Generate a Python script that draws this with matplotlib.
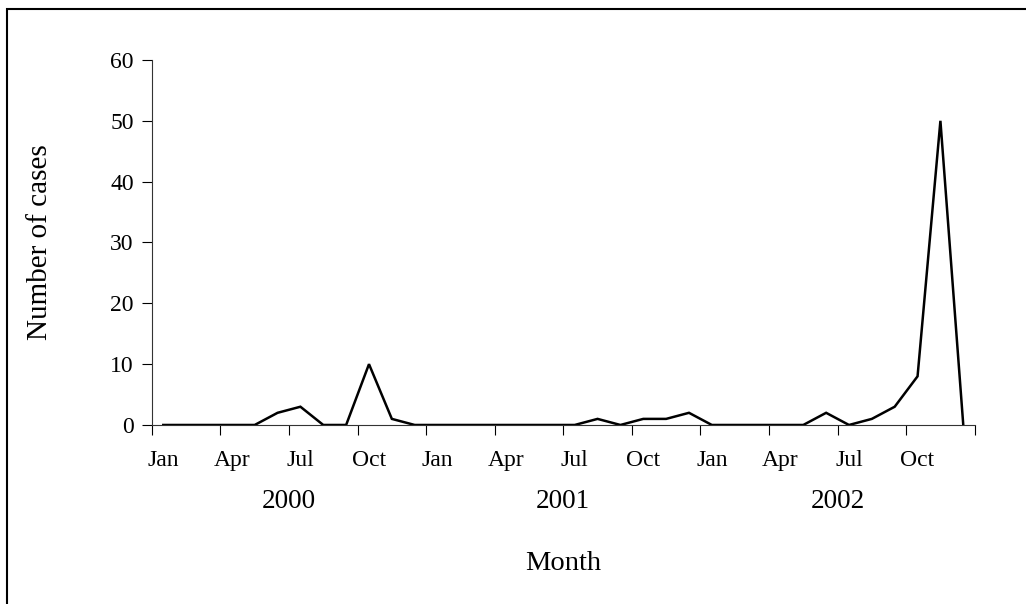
import numpy as np
import matplotlib.pyplot as plt
from matplotlib.patches import Rectangle
from matplotlib.transforms import blended_transform_factory

# monthly case counts, Jan 2000 - Dec 2002
cases_2000 = [0, 0, 0, 0, 0, 2, 3, 0, 0, 10, 1, 0]
cases_2001 = [0, 0, 0, 0, 0, 0, 0, 1, 0, 1, 1, 2]
cases_2002 = [0, 0, 0, 0, 0, 2, 0, 1, 3, 8, 50, 0]
years = ['2000', '2001', '2002']
month_labels = ['Jan', 'Apr', 'Jul', 'Oct']


def main():
    plt.rcParams['font.family'] = ['Liberation Serif', 'DejaVu Serif']

    cases = np.array(cases_2000 + cases_2001 + cases_2002)
    x = np.arange(len(cases))

    fig = plt.figure(figsize=(10.26, 6.04), dpi=100)
    ax = fig.add_axes([0.148, 0.2964, 0.802, 0.6043])

    ax.plot(x, cases, color='black', lw=1.8, solid_joinstyle='miter')

    ax.set_xlim(-0.5, len(cases) - 0.5)
    ax.set_ylim(0, 60)
    ax.set_yticks(np.arange(0, 61, 10))
    ax.tick_params(axis='y', labelsize=17, length=7, width=0.8, pad=6, colors='black')

    # ticks at quarter boundaries, labels under every third month
    ax.set_xticks(np.arange(-0.5, len(cases), 3))
    ax.set_xticklabels([])
    ax.tick_params(axis='x', which='major', length=7, width=0.8)
    ax.set_xticks(np.arange(0, len(cases), 3), minor=True)
    ax.set_xticklabels(month_labels * len(years), minor=True)
    ax.tick_params(axis='x', which='minor', length=0, labelsize=17, pad=18)

    for side in ['top', 'right']:
        ax.spines[side].set_visible(False)
    for side in ['left', 'bottom']:
        ax.spines[side].set_linewidth(0.8)
        ax.spines[side].set_color('#333333')

    trans = blended_transform_factory(ax.transData, ax.transAxes)
    for i, yr in enumerate(years):
        ax.text(i * 12 + 5.5, -0.21, yr, transform=trans, ha='center', va='center', fontsize=19.5)

    ax.text(0.5, -0.38, 'Month', transform=ax.transAxes, ha='center', va='center', fontsize=20.5)
    fig.text(40 / 1026, 1 - 242 / 604, 'Number of cases', rotation=90,
             ha='center', va='center', fontsize=21)

    # outer frame, cut off at the right and bottom edges
    fig.patches.append(Rectangle((7 / 1026, -0.1), 1.2, 1 - 9 / 604 + 0.1, transform=fig.transFigure,
                                 fill=False, edgecolor='black', lw=1.5))

    fig.savefig('out.png', dpi=100)


if __name__ == "__main__":
    main()
